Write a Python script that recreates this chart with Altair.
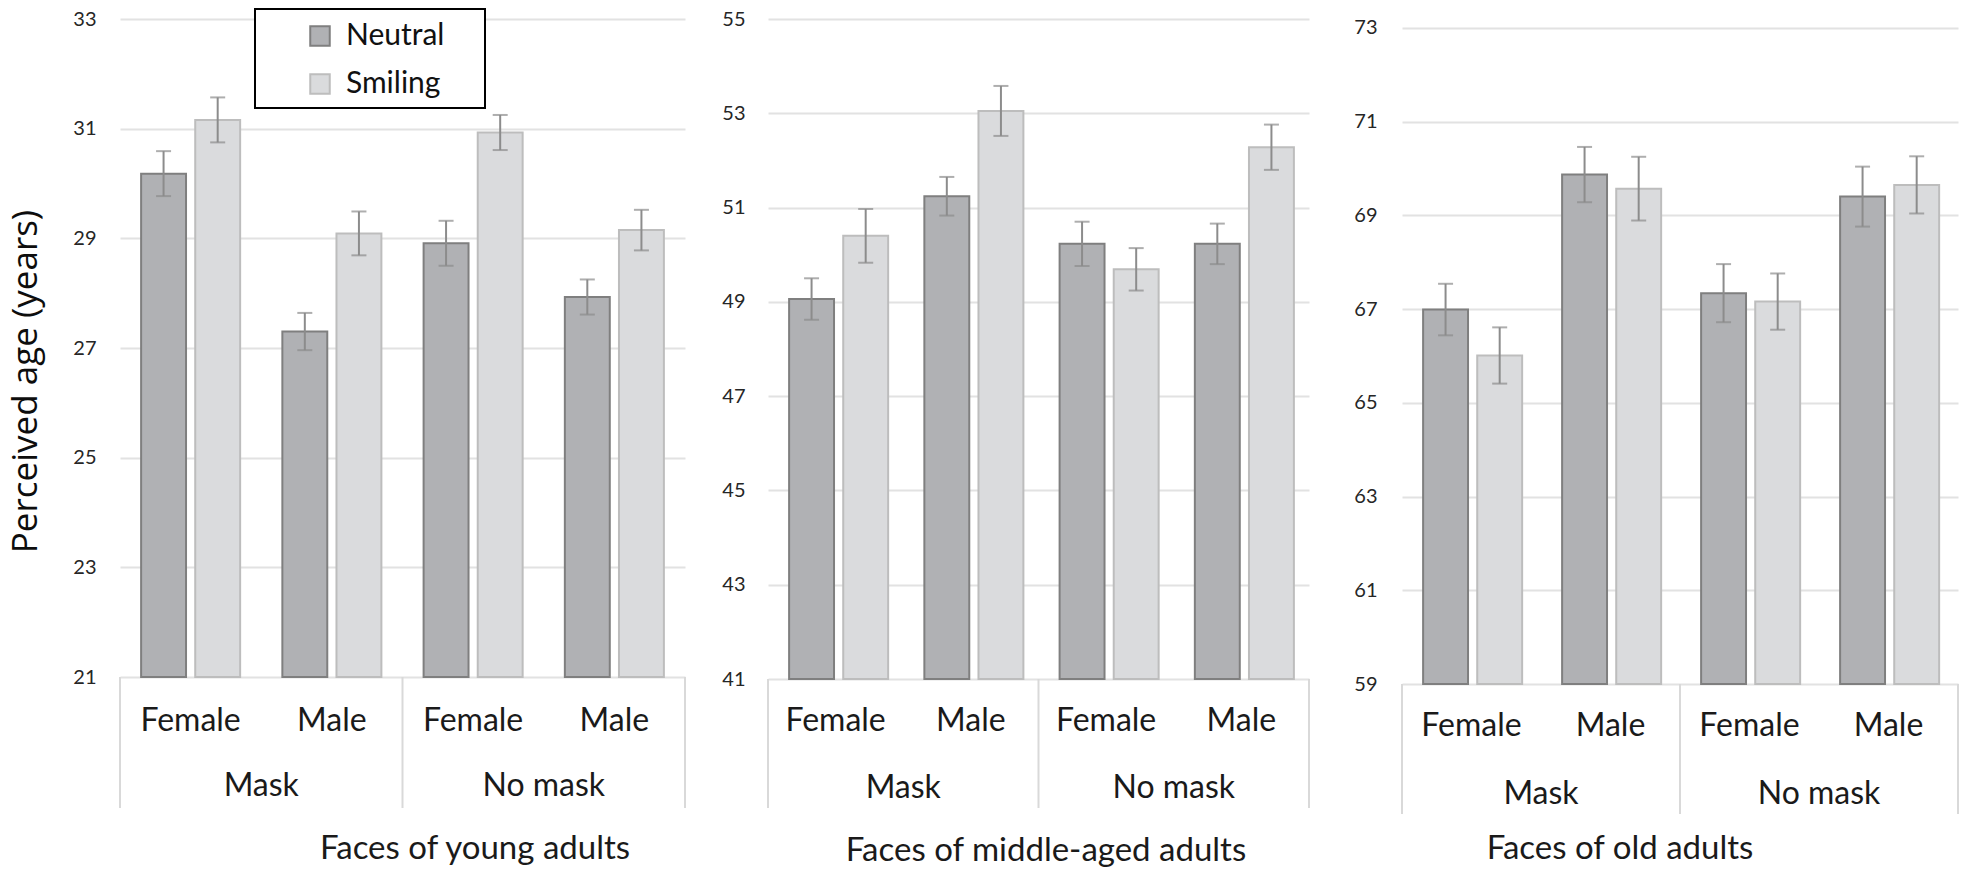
import altair as alt
import pandas as pd

masks = ["Mask", "Mask", "No mask", "No mask"]
genders = ["Female", "Male", "Female", "Male"]
expressions = ["Neutral", "Smiling"]

young_neutral = [30.18, 27.30, 28.91, 27.93]
young_neutral_err = [0.41, 0.34, 0.41, 0.32]
young_smiling = [31.16, 29.09, 30.93, 29.15]
young_smiling_err = [0.41, 0.40, 0.32, 0.37]

middle_neutral = [49.06, 51.24, 50.23, 50.23]
middle_neutral_err = [0.44, 0.41, 0.47, 0.43]
middle_smiling = [50.40, 53.05, 49.69, 52.28]
middle_smiling_err = [0.57, 0.53, 0.45, 0.48]

old_neutral = [66.99, 69.87, 67.34, 69.40]
old_neutral_err = [0.55, 0.59, 0.62, 0.64]
old_smiling = [66.01, 69.57, 67.16, 69.65]
old_smiling_err = [0.60, 0.68, 0.60, 0.61]

ticks_young = [21, 23, 25, 27, 29, 31, 33]
ticks_middle = [41, 43, 45, 47, 49, 51, 53, 55]
ticks_old = [59, 61, 63, 65, 67, 69, 71, 73]

titles = ["Faces of young adults", "Faces of middle-aged adults", "Faces of old adults"]

keys = [m + "/" + g for m, g in zip(masks, genders)]

FONT = "Lato"
TXT = "#1a1a1a"


def make_df(neutral, nerr, smiling, serr):
    rows = []
    for i in range(4):
        for expr, vals, errs in (("Neutral", neutral, nerr), ("Smiling", smiling, serr)):
            rows.append(dict(key=keys[i], mask=masks[i], gender=genders[i], expr=expr,
                             value=vals[i], lo=vals[i] - errs[i], hi=vals[i] + errs[i]))
    return pd.DataFrame(rows)


def panel(df, ticks, domain, width, height, title_text, title_x, title_y,
          lab_y, mask_y, sep_y, ytitle, label_pad, with_box=False):
    xscale = alt.Scale(domain=keys, paddingInner=0, paddingOuter=0)
    x = alt.X("key:N", scale=xscale, axis=None, sort=keys)
    xoff = alt.XOffset("expr:N", scale=alt.Scale(domain=expressions, paddingInner=0.17, paddingOuter=0.39))
    axis_kw = dict(values=ticks, format="d", labelFont=FONT, labelFontSize=20, labelColor="#262626",
                   labelPadding=label_pad, ticks=False, domain=False, grid=True,
                   gridColor="#e2e2e2", gridWidth=2)
    if ytitle:
        axis_kw.update(title="Perceived age (years)", titleFont="Open Sans", titleFontSize=35,
                       titleFontWeight="normal", titleColor="#0d0d0d", titleX=-95, titleY=362,
                       titleBaseline="middle", titleAngle=-90)
    else:
        axis_kw.update(title=None)
    yscale = alt.Scale(domain=domain, nice=False, zero=False)
    y = alt.Y("value:Q", scale=yscale, axis=alt.Axis(**axis_kw))
    legend = alt.Legend(title=None, orient="none", legendX=135, legendY=-10,
                        labelFont=FONT, labelFontSize=30, labelColor="#111111",
                        symbolType="square", symbolSize=380, symbolStrokeWidth=2,
                        rowPadding=18, labelOffset=11, padding=12, symbolOffset=38)
    color = alt.Color("expr:N", scale=alt.Scale(domain=expressions, range=["#b0b1b4", "#dadbdd"]),
                      legend=legend)
    stroke = alt.Stroke("expr:N", scale=alt.Scale(domain=expressions, range=["#7f7f7f", "#bdbdbd"]),
                        legend=legend)
    base = alt.Chart(df)
    bars = base.mark_bar(strokeWidth=2).encode(
        x=x, xOffset=xoff, y=y, y2=alt.Y2Datum(domain[0]), color=color, stroke=stroke)
    err = base.mark_rule(color="#8c8c8c", strokeWidth=2).encode(
        x=x, xOffset=xoff, y=alt.Y("lo:Q", scale=yscale), y2="hi:Q")
    cap_lo = base.mark_tick(color="#8c8c8c", thickness=2, size=15).encode(
        x=x, xOffset=xoff, y=alt.Y("lo:Q", scale=yscale))
    cap_hi = base.mark_tick(color="#8c8c8c", thickness=2, size=15).encode(
        x=x, xOffset=xoff, y=alt.Y("hi:Q", scale=yscale))

    gdf = pd.DataFrame({"key": keys, "gender": genders})
    glabels = alt.Chart(gdf).mark_text(font=FONT, fontSize=32, color=TXT, baseline="middle").encode(
        x=x, y=alt.value(lab_y), text="gender:N")
    mdf = pd.DataFrame({"key": [keys[1], keys[3]], "mask": [masks[0], masks[2]]})
    mlabels = alt.Chart(mdf).mark_text(font=FONT, fontSize=32, color=TXT, baseline="middle").encode(
        x=alt.X("key:N", scale=xscale, axis=None, bandPosition=0), y=alt.value(mask_y), text="mask:N")
    sdf = pd.DataFrame({"key": [keys[0], keys[2]]})
    seps = alt.Chart(sdf).mark_rule(color="#d9d9d9", strokeWidth=2).encode(
        x=alt.X("key:N", scale=xscale, axis=None, bandPosition=0), y=alt.value(height), y2=alt.value(sep_y))
    edf = pd.DataFrame({"key": [keys[3]]})
    sep_end = alt.Chart(edf).mark_rule(color="#d9d9d9", strokeWidth=2).encode(
        x=alt.X("key:N", scale=xscale, axis=None, bandPosition=1), y=alt.value(height), y2=alt.value(sep_y))
    ttl = alt.Chart(pd.DataFrame({"t": [title_text]})).mark_text(
        font=FONT, fontSize=33, color=TXT, baseline="middle").encode(
        x=alt.value(title_x), y=alt.value(title_y), text="t:N")

    layers = [bars, err, cap_lo, cap_hi, glabels, mlabels, seps, sep_end, ttl]
    if with_box:
        box = alt.Chart(pd.DataFrame({"b": [0]})).mark_rect(
            fill="white", stroke="black", strokeWidth=2).encode(
            x=alt.value(135), x2=alt.value(365), y=alt.value(-10), y2=alt.value(89))
        layers.insert(0, box)
    return alt.layer(*layers).properties(width=width, height=height)


p1 = panel(make_df(young_neutral, young_neutral_err, young_smiling, young_smiling_err),
           ticks_young, [21, 33], 565, 658, titles[0], 355, 830, 702, 767, 789, True, 24, with_box=True)
p2 = panel(make_df(middle_neutral, middle_neutral_err, middle_smiling, middle_smiling_err),
           ticks_middle, [41, 55], 541, 660, titles[1], 278, 832, 702, 769, 789, False, 23)
p3 = panel(make_df(old_neutral, old_neutral_err, old_smiling, old_smiling_err),
           ticks_old, [59, 73.19], 556, 665, titles[2], 218, 830, 707, 775, 795, False, 25)

chart = alt.hconcat(alt.hconcat(p1, p2, spacing=35), p3, spacing=43).properties(
    padding=0, background="white"
).configure_view(stroke=None)

chart.save("out.html", embed_options={"renderer": "svg", "actions": False})
